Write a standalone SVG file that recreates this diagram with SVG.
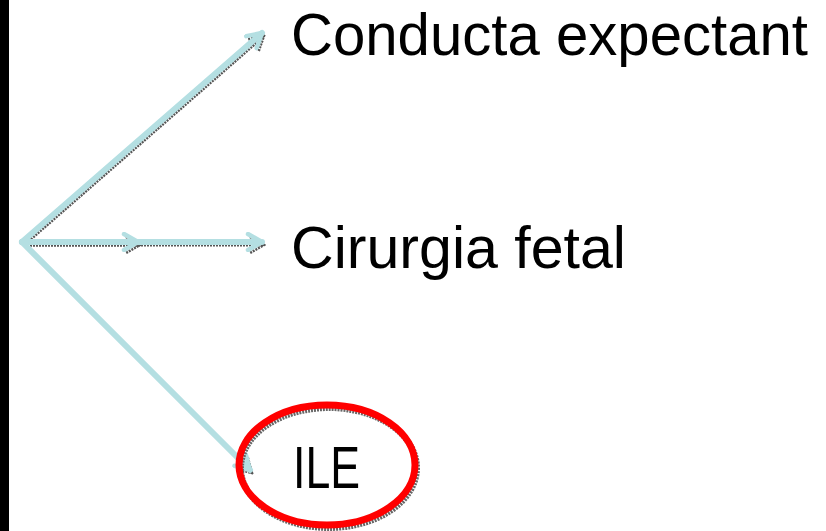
<svg xmlns="http://www.w3.org/2000/svg" width="826" height="531" viewBox="0 0 826 531">
<defs>
<style>
.lbl{font-family:"Liberation Sans",Arial,sans-serif;font-size:59px;fill:#000}
.ln{stroke:#b4dfe2;stroke-width:6;fill:none;stroke-linecap:round;stroke-linejoin:round}
.sh{stroke:#555;stroke-width:3;fill:none;stroke-dasharray:2 1;stroke-linejoin:round}
</style>
<marker id="ah" viewBox="0 0 20 20" refX="18" refY="10" markerWidth="20" markerHeight="20" markerUnits="userSpaceOnUse" orient="auto">
<path d="M4 2 L18 10 L4 18" fill="none" stroke="#b4dfe2" stroke-width="4.5" stroke-linecap="round" stroke-linejoin="round"/>
</marker>
<marker id="ahs" viewBox="0 0 20 20" refX="18" refY="10" markerWidth="20" markerHeight="20" markerUnits="userSpaceOnUse" orient="auto">
<path d="M4 2 L18 10 L4 18" fill="none" stroke="#555" stroke-width="2.5" stroke-dasharray="2 1"/>
</marker>
</defs>
<rect x="0" y="0" width="826" height="531" fill="#fff"/>
<rect x="0" y="0" width="9" height="531" fill="#000"/>
<g id="connectors">
<g transform="translate(2,3)">
<line class="sh" x1="22" y1="242" x2="262" y2="33" marker-end="url(#ahs)"/>
<line class="sh" x1="22" y1="242" x2="138" y2="242" marker-end="url(#ahs)" stroke="#222"/>
<line class="sh" x1="22" y1="242" x2="262" y2="242" marker-end="url(#ahs)"/>
<line class="sh" x1="22" y1="242" x2="250" y2="470" marker-end="url(#ahs)"/>
</g>
<line class="ln" x1="22" y1="242" x2="262" y2="33" marker-end="url(#ah)"/>
<line class="ln" x1="22" y1="242" x2="138" y2="242" marker-end="url(#ah)"/>
<line class="ln" x1="22" y1="242" x2="262" y2="242" marker-end="url(#ah)"/>
<line class="ln" x1="22" y1="242" x2="250" y2="470" marker-end="url(#ah)"/>
</g>
<g id="node-conducta">
<text class="lbl" x="291" y="55" textLength="517" lengthAdjust="spacingAndGlyphs">Conducta expectant</text>
</g>
<g id="node-cirurgia">
<text class="lbl" x="291" y="268" textLength="335" lengthAdjust="spacingAndGlyphs">Cirurgia fetal</text>
</g>
<g id="node-ile">
<ellipse cx="329" cy="468" rx="88" ry="60" fill="none" stroke="#666" stroke-width="6" stroke-dasharray="2 1"/>
<ellipse cx="327" cy="465" rx="88" ry="60" fill="none" stroke="#ff0000" stroke-width="7"/>
<text class="lbl" x="293" y="488" textLength="67" lengthAdjust="spacingAndGlyphs">ILE</text>
</g>
</svg>
